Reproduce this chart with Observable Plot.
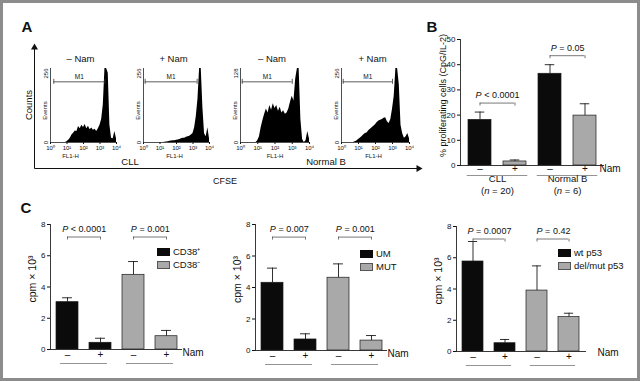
<!DOCTYPE html>
<html>
<head>
<meta charset="utf-8">
<script src="https://cdn.jsdelivr.net/npm/d3@7"></script>
<script src="https://cdn.jsdelivr.net/npm/@observablehq/plot@0.6"></script>
<style>
html,body{margin:0;padding:0;background:#fff;}
#fig{position:relative;width:640px;height:381px;overflow:hidden;background:#fff;font-family:"Liberation Sans",Arial,Helvetica,sans-serif;color:#111;}
#fig .border{position:absolute;left:0;top:0;width:640px;height:381px;box-sizing:border-box;border:3px solid #8c8c8c;pointer-events:none;}
.lbl{position:absolute;white-space:nowrap;line-height:1;transform:translate(-50%,-50%);}
.sw{position:absolute;box-sizing:border-box;}
.lg{position:absolute;white-space:nowrap;line-height:1;transform:translateY(-50%);font-size:9.5px;}
</style>
</head>
<body>
<div id="fig"></div>
<script>
// ---------------- DATA ----------------
// Panel A: CFSE histograms (FL1-H, log10 exponent bins) – event counts
const flExponent = [0.0,0.1,0.2,0.3,0.4,0.5,0.6,0.7,0.8,0.9,1.0,1.1,1.2,1.3,1.4,1.5,1.6,1.7,1.8,1.9,2.0,2.1,2.2,2.3,2.4,2.5,2.6,2.7,2.8,2.9,3.0,3.1,3.2,3.3,3.4,3.5,3.6,3.7,3.8,3.9,4.0];
const flTicks = [0,1,2,3,4];
const eventsCllMinus = [0,0,0,0,0,0,0,0,0,0, 3,8,15,26,32,40,38,55,48,60, 52,62,48,56,44,50,42,46,38,48, 60,80,130,256,256,240,60,15,13,38,13];
const eventsCllPlus  = [0,0,0,0,0,0,0,0,0,0, 0,0,0,1,2,3,4,5,6,6, 8,9,10,13,15,15,18,20,22,26, 31,51,90,150,256,256,120,30,20,51,13];
const eventsNbMinus  = [0,0,0,0,0,0,0,0,0,0, 3,10,26,38,49,58,51,64,56,67, 59,64,54,61,51,55,49,51,58,70, 80,72,110,128,128,40,5,0,3,19,6];
const eventsNbPlus   = [0,0,0,0,0,0,0,0,3,5, 10,15,20,26,31,33,41,46,51,56, 61,69,74,77,80,84,86,72,66,80, 115,160,256,256,200,60,30,15,20,31,13];
const histTitles = ["– Nam", "+ Nam", "– Nam", "+ Nam"];
const histFullScale = [256, 256, 128, 256];
const m1Gates = [[0.2, 3.3], [0.1, 3.25], [0.1, 3.0], [0.1, 3.0]];
const axisArrowsA = [{x1: 0, y1: 0, x2: 0, y2: 1, dir: 0}, {x1: 0, y1: 0, x2: 1, y2: 0, dir: 90}];

// Panel B: % proliferating cells
const bCats  = ["CLL –", "CLL +", "Normal B –", "Normal B +"];
const bNam   = ["–", "+", "–", "+"];
const bMean  = [18.1, 1.6, 36.4, 19.8];
const bSem   = [3.1, 0.6, 3.6, 4.7];
const bP     = ["P < 0.0001", "P = 0.05"];
const bGroups = ["CLL", "Normal B"];
const bN     = ["(n = 20)", "(n = 6)"];
const bTicks = [0, 10, 20, 30, 40, 50];

// Panel C: cpm x 10^3
const cNam   = ["–", "+", "–", "+"];
const cTicks = [0, 2, 4, 6, 8];
const c1Cats  = ["CD38⁺ –", "CD38⁺ +", "CD38⁻ –", "CD38⁻ +"];
const c1Group = ["CD38⁺", "CD38⁺", "CD38⁻", "CD38⁻"];
const c1Mean  = [3.03, 0.43, 4.78, 0.85];
const c1Sem   = [0.28, 0.29, 0.85, 0.37];
const c1P     = ["P < 0.0001", "P = 0.001"];
const c2Cats  = ["UM –", "UM +", "MUT –", "MUT +"];
const c2Group = ["UM", "UM", "MUT", "MUT"];
const c2Mean  = [4.30, 0.70, 4.62, 0.63];
const c2Sem   = [0.93, 0.36, 0.88, 0.32];
const c2P     = ["P = 0.007", "P = 0.001"];
const c3Cats  = ["wt p53 –", "wt p53 +", "del/mut p53 –", "del/mut p53 +"];
const c3Group = ["wt p53", "wt p53", "del/mut p53", "del/mut p53"];
const c3Mean  = [5.76, 0.53, 3.90, 2.20];
const c3Sem   = [1.28, 0.24, 1.58, 0.25];
const c3P     = ["P = 0.0007", "P = 0.42"];

// ---------------- LAYOUT ----------------
const W = 640, H = 381;
const FONT = "'Liberation Sans', Arial, Helvetica, sans-serif";
const BLACK = "#0b0b0b", GRAY = "#a9a9a9";
const SUP = ["⁰", "¹", "²", "³", "⁴"];
const fig = document.getElementById("fig");

function frameOpts(l, t, r, b, fs) {
  return {
    width: W, height: H,
    marginLeft: l, marginTop: t, marginRight: W - r, marginBottom: H - b,
    style: `position:absolute;left:0;top:0;background:transparent;overflow:visible;font-family:${FONT};font-size:${fs}px;color:#111;`
  };
}
function add(el) { fig.appendChild(el); }
function label(text, x, y, size, extra) {
  const d = document.createElement("div");
  d.className = "lbl";
  d.style.left = x + "px"; d.style.top = y + "px"; d.style.fontSize = size + "px";
  if (extra) d.style.cssText += extra;
  d.innerHTML = text;
  fig.appendChild(d);
}
function legend(x, y, names) {
  names.forEach((nm, j) => {
    const s = document.createElement("div");
    s.className = "sw";
    s.style.cssText += `left:${x}px;top:${y + j * 13}px;width:13px;height:8px;background:${j ? GRAY : BLACK};border:0.8px solid ${j ? "#555" : BLACK};`;
    fig.appendChild(s);
    const t = document.createElement("div");
    t.className = "lg";
    t.style.left = (x + 16) + "px"; t.style.top = (y + j * 13 + 4) + "px";
    t.textContent = nm;
    fig.appendChild(t);
  });
}

// ---------- Panel A ----------
const histEvents = [eventsCllMinus, eventsCllPlus, eventsNbMinus, eventsNbPlus];
const histLayout = [[50, 116], [143, 209], [240, 309], [341, 409]];
const fl1Dx = [-13, -2, 0, -2];

add(Plot.plot({
  ...frameOpts(34, 47, 418, 168, 10),
  x: {domain: [0, 1], axis: null},
  y: {domain: [0, 1], axis: null},
  marks: [
    Plot.link(axisArrowsA, {x1: "x1", y1: "y1", x2: "x2", y2: "y2", stroke: "#111", strokeWidth: 1}),
    Plot.dot(axisArrowsA, {x: "x2", y: "y2", symbol: "triangle", r: 2.6, fill: "#111", stroke: "none", rotate: "dir"})
  ]
}));

histEvents.forEach((events, i) => {
  const [l, r] = histLayout[i];
  const full = histFullScale[i];
  const gate = m1Gates[i];
  const gy = full * 0.82;
  const pts = flExponent.map((e, j) => ({e, n: events[j]}));
  add(Plot.plot({
    ...frameOpts(l, 68, r, 142, 6),
    x: {domain: [0, 4], ticks: flTicks, tickFormat: d => "10" + SUP[d], tickSize: 2, tickPadding: 1, label: null},
    y: {domain: [0, full], axis: null},
    marks: [
      Plot.areaY(pts, {x: "e", y: "n", fill: "#000"}),
      Plot.ruleY([0], {stroke: "#222", strokeWidth: 0.8}),
      Plot.ruleX([0], {stroke: "#222", strokeWidth: 0.8}),
      Plot.ruleY([gate], {x1: d => d[0], x2: d => d[1], y: () => gy, stroke: "#333", strokeWidth: 0.8}),
      Plot.ruleX(gate, {x: d => d, y1: () => gy, y2: () => gy, insetTop: -2.5, insetBottom: -2.5, stroke: "#333", strokeWidth: 0.8}),
      Plot.text(["M1"], {x: () => (gate[0] + gate[1]) / 2, y: () => gy, dy: -5, fontSize: 6.5}),
      Plot.text([full], {y: d => d, frameAnchor: "left", dx: -4, rotate: -90, textAnchor: "end", fontSize: 6}),
      Plot.text([0], {y: d => d, frameAnchor: "left", dx: -4, rotate: -90, textAnchor: "middle", fontSize: 6}),
      Plot.text(["Events"], {frameAnchor: "left", dx: -5, dy: 5, rotate: -90, textAnchor: "middle", fontSize: 6}),
      Plot.text([histTitles[i]], {frameAnchor: "top", dx: -3, dy: -13, fontSize: 9.5}),
      Plot.text(["FL1-H"], {frameAnchor: "bottom", dx: fl1Dx[i], dy: 15, fontSize: 6})
    ]
  }));
});

label("A", 27, 26, 15, "font-weight:bold;");
label("Counts", 28.5, 105, 9.5, "transform:translate(-50%,-50%) rotate(-90deg);");
label("CFSE", 225, 181, 9);
label("CLL", 130, 162, 9.5);
label("Normal B", 326, 162, 9.5);

// ---------- bar panels ----------
function barPanel(cfg) {
  const [l, t, r, b] = cfg.frame;
  const n = cfg.cats.length;
  const step = (r - l) / (n - cfg.pi + 2 * cfg.po);
  const bw = step * (1 - cfg.pi);
  const rows = cfg.cats.map((c, i) => ({c, k: cfg.keys[i], s: cfg.signs[i], m: cfg.mean[i], e: cfg.sem[i]}));
  const pairs = cfg.pText.map((p, j) => {
    const A = rows[2 * j], B = rows[2 * j + 1];
    return {a: A.c, b: B.c, p, g: cfg.groups ? cfg.groups[j] : "", nn: cfg.nLabels ? cfg.nLabels[j] : "",
            top: Math.max(A.m + A.e, B.m + B.e)};
  });
  const by = cfg.bracketAt;
  const capIn = (bw - cfg.cap) / 2;
  const marks = [
    Plot.barY(rows, {x: "c", y: "m", fill: "k", stroke: "#1a1a1a", strokeWidth: 0.7}),
    Plot.ruleX(rows, {x: "c", y1: "m", y2: d => d.m + d.e, stroke: "#1a1a1a", strokeWidth: 0.9}),
    Plot.tickY(rows, {x: "c", y: d => d.m + d.e, insetLeft: capIn, insetRight: capIn, stroke: "#1a1a1a", strokeWidth: 0.9}),
    Plot.ruleY([0], {stroke: "#222", strokeWidth: 0.9}),
    Plot.frame({anchor: "left", stroke: "#222", strokeWidth: 0.9}),
    Plot.ruleY(pairs, {x1: "a", x2: "b", y: by, dy: cfg.bracketDy, insetLeft: bw / 2, insetRight: bw / 2, stroke: "#555", strokeWidth: 0.8}),
    Plot.ruleX(pairs, {x: "a", y1: by, y2: by, dy: cfg.bracketDy, insetBottom: -3, stroke: "#555", strokeWidth: 0.8}),
    Plot.ruleX(pairs, {x: "b", y1: by, y2: by, dy: cfg.bracketDy, insetBottom: -3, stroke: "#555", strokeWidth: 0.8}),
    Plot.text(pairs, {x: "a", y: by, dx: step / 2, dy: cfg.bracketDy - 8, text: "p", fontSize: 9}),
    Plot.text(rows, {x: "c", frameAnchor: "bottom", dy: cfg.signDy, text: "s", fontSize: 10, fill: "#111"}),
    Plot.ruleY(pairs, {x1: "a", x2: "b", y: () => 0, dy: cfg.lineDy, insetLeft: bw / 2 - cfg.lineExt, insetRight: bw / 2 - cfg.lineExt, stroke: "#777", strokeWidth: 0.8}),
    Plot.text(["Nam"], {frameAnchor: "bottom-right", dx: cfg.namDx, dy: cfg.namDy, textAnchor: "start", fontSize: 10}),
    Plot.text([cfg.yLabel], {frameAnchor: "left", rotate: -90, textAnchor: "middle", dx: cfg.yLabelDx, dy: cfg.yLabelDy, fontSize: cfg.yLabelSize})
  ];
  if (cfg.groups) {
    marks.push(
      Plot.text(pairs, {x: "a", frameAnchor: "bottom", dx: step / 2, dy: 16, text: "g", fontSize: 9.5}),
      Plot.text(pairs, {x: "a", frameAnchor: "bottom", dx: step / 2, dy: 28, text: "nn", fontSize: 9.5})
    );
  }
  return Plot.plot({
    ...frameOpts(l, t, r, b, 8),
    x: {domain: cfg.cats, axis: null, paddingInner: cfg.pi, paddingOuter: cfg.po},
    y: {domain: cfg.yDomain, ticks: cfg.yTicks, tickSize: 3, tickPadding: 2, label: null},
    color: {domain: cfg.colorDomain, range: [BLACK, GRAY]},
    marks
  });
}

// Panel B
add(barPanel({
  frame: [460, 39, 604, 165], pi: 0.33, po: 0.22,
  cats: bCats, keys: bNam, colorDomain: ["–", "+"], signs: bNam, mean: bMean, sem: bSem,
  pText: bP, groups: bGroups, nLabels: bN,
  yDomain: [0, 50], yTicks: bTicks,
  bracketAt: d => d.top, bracketDy: -9, cap: 10,
  signDy: 6, lineDy: 10, lineExt: 13, namDx: -5, namDy: 6,
  yLabel: "% proliferating cells (CpG/IL-2)", yLabelDx: -17, yLabelDy: -7, yLabelSize: 9
}));
label("B", 432, 26, 15, "font-weight:bold;");

// Panel C
const cPanels = [
  {frame: [50, 224, 182, 349], cats: c1Cats, keys: c1Group, mean: c1Mean, sem: c1Sem, pText: c1P, namDx: 0, namDy: 6.5},
  {frame: [255, 224, 387, 350], cats: c2Cats, keys: c2Group, mean: c2Mean, sem: c2Sem, pText: c2P, namDx: 0, namDy: 6.5},
  {frame: [456, 226, 586, 351], cats: c3Cats, keys: c3Group, mean: c3Mean, sem: c3Sem, pText: c3P, namDx: 11, namDy: 4.5}
];
cPanels.forEach(p => {
  add(barPanel({
    ...p, pi: 0.34, po: 0.14,
    colorDomain: [p.keys[0], p.keys[2]], signs: cNam,
    yDomain: [0, 8], yTicks: cTicks,
    bracketAt: () => 7.2, bracketDy: 0, cap: 10,
    signDy: 8, lineDy: 14, lineExt: 7,
    yLabel: "cpm × 10³", yLabelDx: -18, yLabelDy: -8, yLabelSize: 10.5
  }));
});
label("C", 26, 207, 15, "font-weight:bold;");
legend(157, 248, [c1Group[0], c1Group[2]]);
legend(360, 250, [c2Group[0], c2Group[2]]);
legend(558, 249, [c3Group[0], c3Group[2]]);

// italics for P and n
fig.querySelectorAll("svg text").forEach(el => {
  const t = el.textContent;
  if (/^P [<=]/.test(t)) el.innerHTML = '<tspan font-style="italic">P</tspan>' + t.slice(1).replace("<", "&lt;");
  else if (/^\(n = /.test(t)) el.innerHTML = '(<tspan font-style="italic">n</tspan>' + t.slice(2);
});

const border = document.createElement("div");
border.className = "border";
fig.appendChild(border);
</script>
</body>
</html>
